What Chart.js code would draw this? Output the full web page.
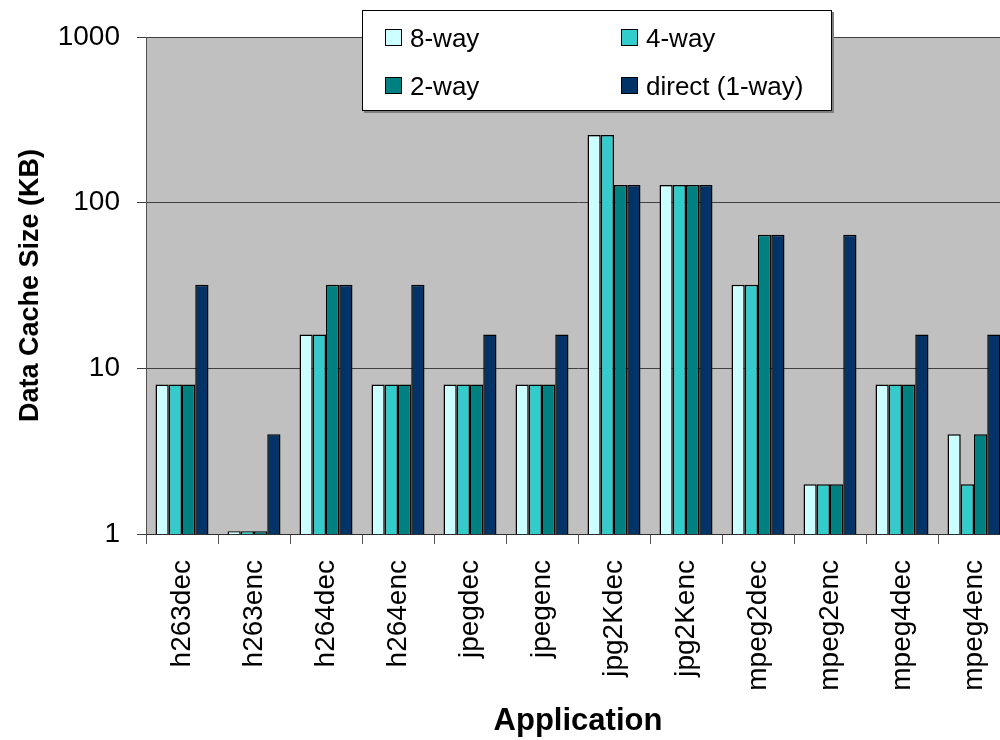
<!DOCTYPE html>
<html>
<head>
<meta charset="utf-8">
<script src="https://cdn.jsdelivr.net/npm/chart.js@4/dist/chart.umd.min.js"></script>
<style>
  html, body { margin: 0; padding: 0; background: #ffffff; overflow: hidden; }
  #wrap { width: 1000px; height: 740px; overflow: hidden; }
  canvas { display: block; }
</style>
</head>
<body>
<div id="wrap"><canvas id="chart" width="1012" height="740"></canvas></div>
<script>
// Applications on the x axis
const applications = ['h263dec', 'h263enc', 'h264dec', 'h264enc', 'jpegdec', 'jpegenc',
                      'jpg2Kdec', 'jpg2Kenc', 'mpeg2dec', 'mpeg2enc', 'mpeg4dec', 'mpeg4enc'];

// Data cache size (KB) per associativity
const way8   = [8, 1.04, 16, 8, 8, 8, 256, 128, 32, 2, 8, 4];
const way4   = [8, 1.04, 16, 8, 8, 8, 256, 128, 32, 2, 8, 2];
const way2   = [8, 1.04, 32, 8, 8, 8, 128, 128, 64, 2, 8, 4];
const direct = [32, 4, 32, 32, 16, 16, 128, 128, 64, 64, 16, 16];

const seriesNames  = ['8-way', '4-way', '2-way', 'direct (1-way)'];
const seriesColors = ['#CCFFFF', '#33CCCC', '#008080', '#003366'];

// Log axis tick values
const yTicks = [1, 10, 100, 1000];

const FONT = '"Liberation Sans", Arial, Helvetica, sans-serif';

// Grey plot-area background
const plotBackground = {
  id: 'plotBackground',
  beforeDraw(chart) {
    const { ctx, chartArea: a } = chart;
    ctx.save();
    ctx.fillStyle = '#C0C0C0';
    ctx.fillRect(a.left, a.top, a.right - a.left, a.bottom - a.top);
    ctx.restore();
  }
};

// Two-column boxed legend in the upper part of the plot
const boxedLegend = {
  id: 'boxedLegend',
  afterDraw(chart) {
    const ctx = chart.ctx;
    const x = 362, y = 10, w = 470, h = 101;
    ctx.save();
    ctx.fillStyle = '#808080';
    ctx.fillRect(x + 2, y + 2, w, h);
    ctx.fillStyle = '#ffffff';
    ctx.fillRect(x, y, w, h);
    ctx.strokeStyle = '#000000';
    ctx.lineWidth = 1;
    ctx.strokeRect(x + 0.5, y + 0.5, w - 1, h - 1);

    const cols = [385, 621];
    const rows = [29, 77];
    ctx.font = '26px ' + FONT;
    ctx.textBaseline = 'alphabetic';
    ctx.textAlign = 'left';
    chart.data.datasets.forEach((ds, i) => {
      const sx = cols[i % 2], sy = rows[Math.floor(i / 2)];
      ctx.fillStyle = ds.backgroundColor;
      ctx.fillRect(sx, sy, 17, 17);
      ctx.strokeStyle = '#000000';
      ctx.strokeRect(sx + 0.5, sy + 0.5, 16, 16);
      ctx.fillStyle = '#000000';
      ctx.fillText(ds.label, sx + 25, sy + 18);
    });
    ctx.restore();
  }
};

const seriesData = [way8, way4, way2, direct];

new Chart(document.getElementById('chart'), {
  type: 'bar',
  data: {
    labels: applications,
    datasets: seriesData.map((values, i) => ({
      label: seriesNames[i],
      data: values,
      backgroundColor: seriesColors[i],
      borderColor: '#000000',
      borderWidth: 1.5,
      barPercentage: 1.0,
      categoryPercentage: 0.736
    }))
  },
  options: {
    responsive: false,
    devicePixelRatio: 1,
    animation: false,
    layout: { padding: { top: 37, left: 0, right: 2, bottom: 0 } },
    plugins: {
      legend: { display: false },
      tooltip: { enabled: false }
    },
    scales: {
      x: {
        offset: true,
        grid: {
          display: true,
          offset: true,
          drawOnChartArea: false,
          drawTicks: true,
          tickLength: 10,
          color: '#505050',
          lineWidth: 1
        },
        border: { display: true, color: '#303030', width: 1 },
        ticks: {
          autoSkip: false,
          maxRotation: 90,
          minRotation: 90,
          padding: 16,
          color: '#000000',
          font: { family: FONT, size: 28 }
        },
        title: {
          display: true,
          text: 'Application',
          color: '#000000',
          font: { family: FONT, size: 31, weight: 'bold' },
          padding: { top: 0, bottom: 0 }
        },
        afterFit(scale) {
          scale.height = 206;
          scale.paddingLeft = 0;
          scale.paddingRight = 0;
        }
      },
      y: {
        type: 'logarithmic',
        min: 1,
        max: 1000,
        grid: {
          display: true,
          drawOnChartArea: true,
          drawTicks: true,
          tickLength: 9,
          color: '#404040',
          lineWidth: 1
        },
        border: { display: true, color: '#505050', width: 1 },
        afterBuildTicks(scale) { scale.ticks = yTicks.map(v => ({ value: v })); },
        ticks: {
          padding: 17,
          color: '#000000',
          font: { family: FONT, size: 28 },
          callback: v => String(v)
        },
        title: {
          display: true,
          text: 'Data Cache Size (KB)',
          color: '#000000',
          font: { family: FONT, size: 27, weight: 'bold' },
          padding: { top: 14, bottom: 0 }
        },
        afterFit(scale) { scale.width = 146; }
      }
    }
  },
  plugins: [plotBackground, boxedLegend]
});
</script>
</body>
</html>
